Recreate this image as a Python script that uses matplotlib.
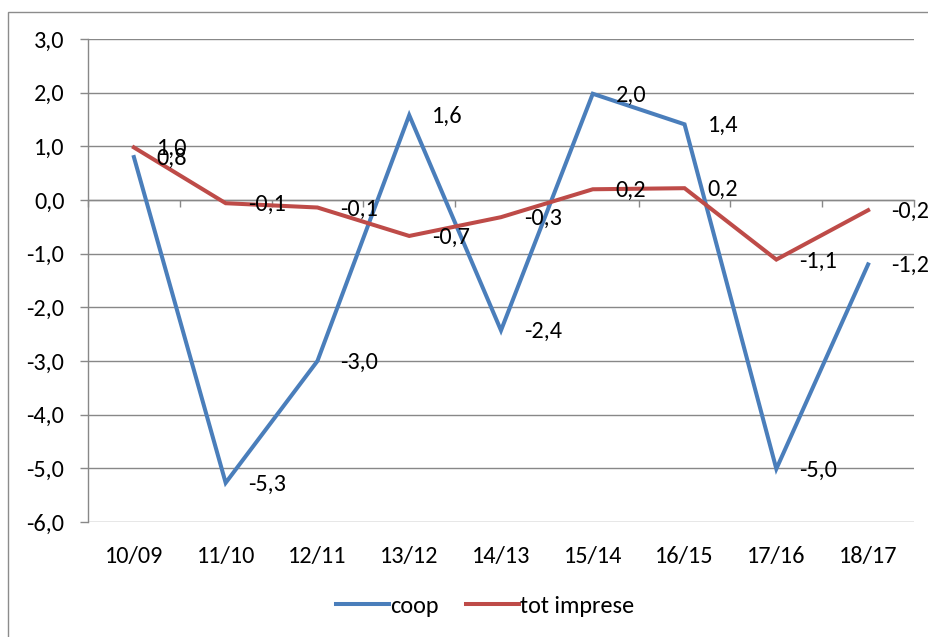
import matplotlib
matplotlib.use("Agg")
import matplotlib.pyplot as plt
from matplotlib.patches import Rectangle
import numpy as np

categories = ["10/09", "11/10", "12/11", "13/12", "14/13", "15/14", "16/15", "17/16", "18/17"]
coop = [0.8, -5.27, -3.0, 1.58, -2.43, 1.98, 1.41, -5.01, -1.2]
coop_labels = ["0,8", "-5,3", "-3,0", "1,6", "-2,4", "2,0", "1,4", "-5,0", "-1,2"]
tot = [0.98, -0.06, -0.14, -0.67, -0.32, 0.2, 0.22, -1.11, -0.19]
tot_labels = ["1,0", "-0,1", "-0,1", "-0,7", "-0,3", "0,2", "0,2", "-1,1", "-0,2"]
yticks = [3, 2, 1, 0, -1, -2, -3, -4, -5, -6]
ytick_labels = ["3,0", "2,0", "1,0", "0,0", "-1,0", "-2,0", "-3,0", "-4,0", "-5,0", "-6,0"]

plt.rcParams['font.family'] = ['Carlito', 'Lato', 'DejaVu Sans']

W, H = 929, 637
FS = 17.5
fig = plt.figure(figsize=(W / 100, H / 100), dpi=100)
ax = fig.add_axes([88 / W, 1 - 522 / H, (914 - 88) / W, (522 - 39) / H])

blue = "#4A7EBB"
red = "#BE4B48"
grid_c = "#888888"

x = np.arange(len(categories))
ax.plot(x, coop, color=blue, lw=2.9, label="coop", solid_joinstyle="miter", zorder=3)
ax.plot(x, tot, color=red, lw=2.9, label="tot imprese", solid_joinstyle="miter", zorder=4)

for xi, v, t in zip(x, coop, coop_labels):
    ax.annotate(t, (xi, v), xytext=(16.5, -1), textcoords="offset points",
                ha="left", va="center", fontsize=FS, zorder=5)
for xi, v, t in zip(x, tot, tot_labels):
    ax.annotate(t, (xi, v), xytext=(16.5, -1), textcoords="offset points",
                ha="left", va="center", fontsize=FS, zorder=5)

ax.set_xlim(-0.5, len(categories) - 0.5)
ax.set_ylim(-6, 3)
ax.set_yticks(yticks)
ax.set_yticklabels(ytick_labels, fontsize=FS)
ax.yaxis.grid(True, color=grid_c, lw=1)
ax.set_axisbelow(True)
ax.tick_params(axis="y", length=6, width=1, color=grid_c, pad=11)

ax.set_xticks(x)
ax.set_xticklabels(categories, fontsize=FS)
ax.tick_params(axis="x", length=0, pad=17)

for s in ["top", "right", "bottom"]:
    ax.spines[s].set_visible(False)
ax.spines["left"].set_color(grid_c)
ax.spines["left"].set_linewidth(1)

sec = ax.secondary_xaxis(0, transform=ax.transData)
sec.set_xticks(np.arange(len(categories) + 1) - 0.5)
sec.set_xticklabels([])
sec.tick_params(axis="x", length=5, width=1, color=grid_c, direction="out")
sec.spines["bottom"].set_color(grid_c)
sec.spines["bottom"].set_linewidth(1)

leg = fig.legend(loc="center", bbox_to_anchor=(485 / W, 1 - 606 / H), ncol=2,
                 frameon=False, fontsize=FS, handlelength=2.2, handletextpad=0.05,
                 columnspacing=1.1)

fig.patches.append(Rectangle((8 / W, -0.05), 1.1, 1 - 12 / H + 0.05,
                             transform=fig.transFigure, fill=False,
                             edgecolor="#8c8c8c", lw=1, clip_on=False))

fig.savefig("out.png", dpi=100, facecolor="white")
